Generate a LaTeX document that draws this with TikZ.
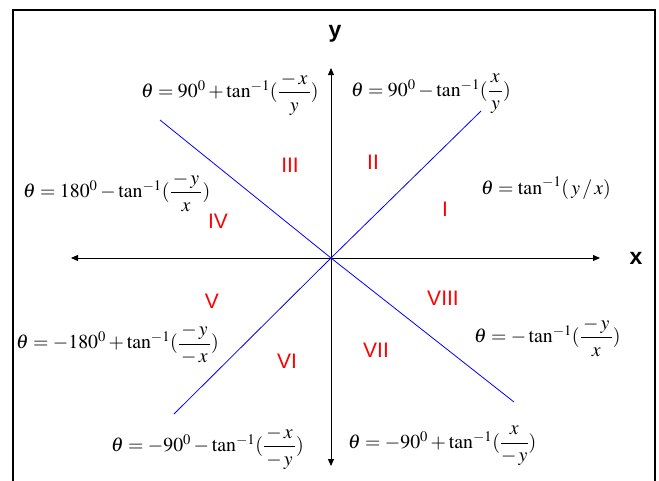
\documentclass[tikz,border=0pt]{standalone}
\usepackage{amsmath}
\usepackage{mathptmx}
\usepackage{fontspec}
\setsansfont{Liberation Sans}
\usetikzlibrary{arrows.meta}
\tikzset{
  axis/.style={line width=0.9pt, {Triangle[length=7pt,width=6pt]}-{Triangle[length=7pt,width=6pt]}},
  divider/.style={blue, line width=0.8pt},
  formula/.style={anchor=west, inner sep=0pt, font=\fontsize{19.8}{22}\selectfont},
  region/.style={red, inner sep=0pt, font=\sffamily\fontsize{21}{23}\selectfont},
  axislabel/.style={inner sep=0pt, font=\sffamily\bfseries\fontsize{23}{25}\selectfont}
}
\newcommand{\fr}[2]{\dfrac{\,#1\,}{#2}}
\begin{document}
\begin{tikzpicture}[x=1pt,y=-1pt]
\useasboundingbox (0,0) rectangle (659,480);
\draw[line width=2pt] (13,10) rectangle (655,495);
% axes
\coordinate (o) at (331,258);
\coordinate (xl) at (71,258);
\coordinate (xr) at (600,258);
\coordinate (yt) at (331,68);
\coordinate (yb) at (331,466);
\draw[axis] (xl) -- (xr);
\draw[axis] (yb) -- (yt);
% dividers
\coordinate (ul) at (160,120);
\coordinate (ur) at (481,111);
\coordinate (ll) at (174,414);
\coordinate (lr) at (514,402);
\draw[divider] (ul) -- (o) -- (lr);
\draw[divider] (ll) -- (o) -- (ur);
% axis labels
\node[axislabel] (ylab) at (335,34) {y};
\node[axislabel] (xlab) at (636,258) {x};
% regions
\node[region] (r1) at (445,209) {I};
\node[region] (r2) at (373,162) {II};
\node[region] (r3) at (290,165) {III};
\node[region] (r4) at (218,221) {IV};
\node[region] (r5) at (212,301) {V};
\node[region] (r6) at (287,361) {VI};
\node[region] (r7) at (376,350) {VII};
\node[region] (r8) at (443,298) {VIII};
% formulas
\node[formula] (f3) at (141,94) {$\theta = 90^0 + \tan^{-1}(\fr{-\,x}{y})$};
\node[formula] (f2) at (351,94) {$\theta = 90^0 - \tan^{-1}(\fr{x}{y})$};
\node[formula] (f4) at (23,192) {$\theta = 180^0 - \tan^{-1}(\fr{-\,y}{x})$};
\node[formula] (f1) at (481,188) {$\theta = \tan^{-1}(\,y\,/\,x)$};
\node[formula] (f5) at (16,344) {$\theta = -180^0 + \tan^{-1}(\fr{-\,y}{-\,x})$};
\node[formula] (f8) at (474,337) {$\theta = -\tan^{-1}(\fr{-\,y}{x})$};
\node[formula] (f6) at (111,448) {$\theta = -90^0 - \tan^{-1}(\fr{-\,x}{-\,y})$};
\node[formula] (f7) at (348,446) {$\theta = -90^0 + \tan^{-1}(\fr{x}{-\,y})$};
\end{tikzpicture}
\end{document}
